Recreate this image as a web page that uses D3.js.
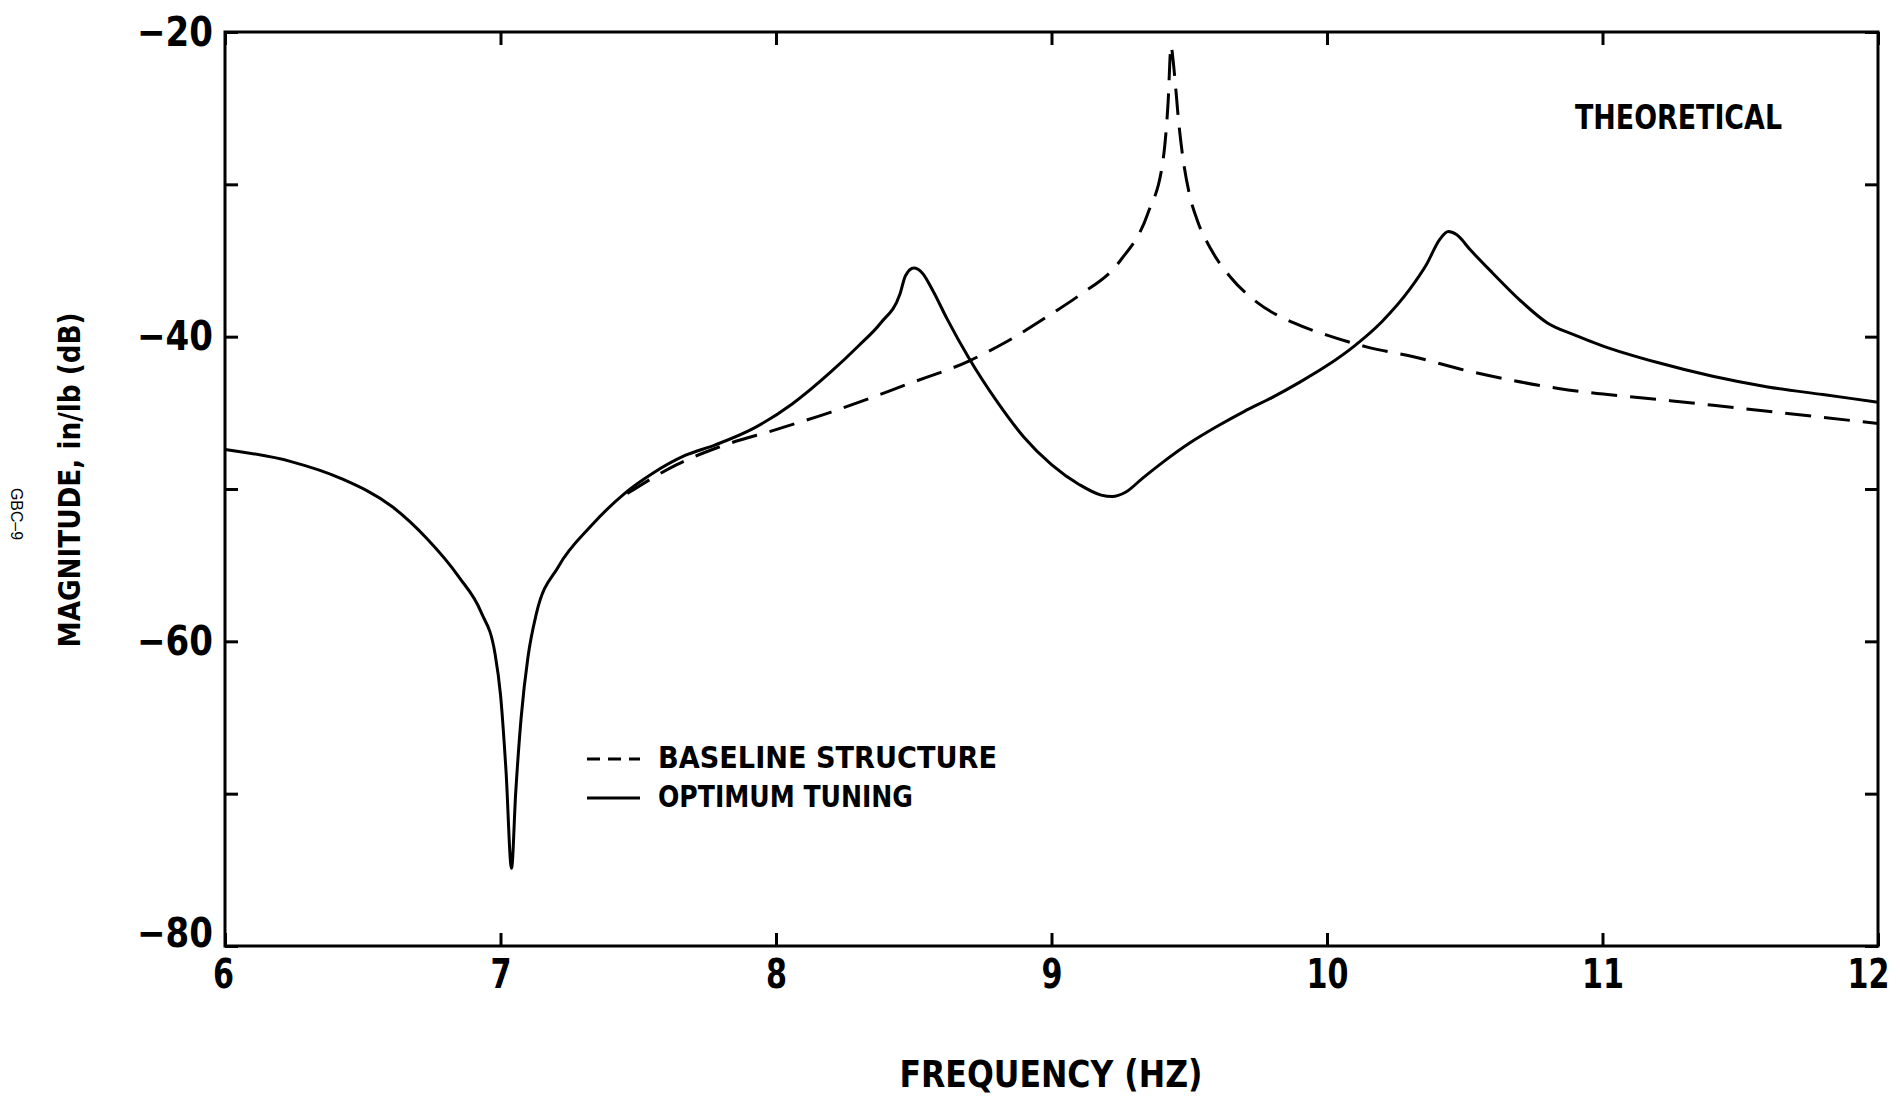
<!DOCTYPE html>
<meta charset="utf-8">
<style>
  body {
    margin: 0;
    background: #fff;
  }

  svg {
    display: block;
    font-family: "Liberation Sans Narrow", "DejaVu Sans Condensed", "Arial Narrow", sans-serif;
    font-weight: bold;
  }

  .axis .domain {
    display: none;
  }

  .axis .tick line {
    stroke: #000;
    stroke-width: 3;
  }

  .axis text {
    font-family: "Liberation Sans Narrow", "DejaVu Sans Condensed", sans-serif;
    font-size: 41px;
    font-weight: bold;
    fill: #000;
  }

  .curve {
    fill: none;
    stroke: #000;
    stroke-width: 3;
    stroke-linejoin: round;
  }

  .dashed {
    stroke-dasharray: 26, 13;
  }
</style>
<svg width="1900" height="1100"></svg>
<script src="https://d3js.org/d3.v7.min.js"></script>
<script>
  // ticks
  var freqTicks = [6, 7, 8, 9, 10, 11, 12];
  var magTicks = [-20, -30, -40, -50, -60, -70, -80];
  var magLabels = [-20, -40, -60, -80];

  // optimum tuning (solid)
  var optFreq = [6.00, 6.24, 6.42, 6.61, 6.73, 6.85, 6.93, 6.98, 7.00, 7.02, 7.04, 7.055, 7.075, 7.10, 7.13,
    7.21, 7.33, 7.45, 7.55, 7.67, 7.78, 7.92, 8.06, 8.20, 8.30, 8.38, 8.45, 8.47, 8.50, 8.53, 8.57,
    8.62, 8.70, 8.80, 8.90, 9.00, 9.10, 9.18, 9.22, 9.27, 9.33, 9.40, 9.50, 9.60, 9.70, 9.80, 9.90,
    10.00, 10.10, 10.20, 10.30, 10.36, 10.41, 10.44, 10.47, 10.52, 10.60, 10.70, 10.80, 10.90, 11.00,
    11.20, 11.40, 11.60, 11.80, 12.00];
  var optMag = [-47.4, -48.2, -49.3, -51.2, -53.2, -55.8, -58.1, -60.8, -63.5, -68.5, -74.9, -70.0, -65.0, -61.0, -58.2,
    -55.1, -52.4, -50.3, -49.0, -47.8, -47.1, -46.0, -44.4, -42.3, -40.6, -39.1, -37.2, -36.0, -35.5, -35.8, -37.0,
    -38.8, -41.4, -44.2, -46.6, -48.4, -49.7, -50.4, -50.5, -50.2, -49.3, -48.3, -47.0, -45.9, -44.9, -44.0, -43.0,
    -41.9, -40.6, -39.0, -36.9, -35.3, -33.6, -33.1, -33.3, -34.3, -35.8, -37.6, -39.1, -39.9, -40.6,
    -41.7, -42.6, -43.3, -43.8, -44.3];

  // baseline structure (dashed)
  var baseFreq = [7.46, 7.64, 7.80, 8.00, 8.20, 8.48, 8.70, 8.83, 9.00, 9.10, 9.25, 9.35, 9.405, 9.423, 9.434,
    9.441, 9.45, 9.46, 9.475, 9.50, 9.53, 9.58, 9.65, 9.75, 9.88, 10.00, 10.15, 10.31, 10.50, 10.84, 11.245, 11.65, 12.00];
  var baseMag = [-50.3, -48.4, -47.2, -46.1, -44.95, -43.1, -41.6, -40.4, -38.5, -37.3, -35.0, -31.9, -28.4, -24.7, -20.9,
    -21.8, -23.5, -25.6, -28.0, -30.6, -32.4, -34.3, -36.1, -37.8, -39.1, -39.9, -40.7, -41.3, -42.2, -43.4, -44.2, -45.0, -45.7];

  var svg = d3.select("svg");
  var margin = {top: 32, right: 22, bottom: 154, left: 225};
  var width = svg.attr("width") - margin.left - margin.right;
  var height = svg.attr("height") - margin.top - margin.bottom;
  var g = svg.append("g").attr("transform", "translate(" + margin.left + "," + margin.top + ")");

  var x = d3.scaleLinear().domain([6, 12]).range([0, width]);
  var y = d3.scaleLinear().domain([-20, -80]).range([0, height]);

  function pairs(fs, ms) {
    return fs.map(function(f, i) { return [f, ms[i]]; });
  }

  var line = d3.line()
    .curve(d3.curveMonotoneX)
    .x(function(d) { return x(d[0]); })
    .y(function(d) { return y(d[1]); });

  // inward ticks on all four sides
  var yAxis = g.append("g")
    .attr("class", "axis axis--y")
    .call(d3.axisLeft(y)
      .tickValues(magTicks)
      .tickSize(-13)
      .tickPadding(12)
      .tickFormat(function(d) { return magLabels.indexOf(d) >= 0 ? "\u2212" + Math.abs(d) : ""; }));

  yAxis.selectAll(".tick text")
    .filter(function(d) { return magLabels.indexOf(d) >= 0; })
    .attr("textLength", 76)
    .attr("lengthAdjust", "spacingAndGlyphs");

  yAxis.selectAll(".tick text")
    .filter(function(d) { return d === -80; })
    .attr("dy", "0em");

  g.append("g")
    .attr("class", "axis")
    .attr("transform", "translate(" + width + ",0)")
    .call(d3.axisRight(y).tickValues(magTicks).tickSize(-13).tickFormat(""));

  var xAxis = g.append("g")
    .attr("class", "axis axis--x")
    .attr("transform", "translate(0," + height + ")")
    .call(d3.axisBottom(x).tickValues(freqTicks).tickSize(-13).tickPadding(13).tickFormat(d3.format("d")));

  xAxis.selectAll(".tick text")
    .attr("textLength", function(d) { return String(d).length * 21; })
    .attr("lengthAdjust", "spacingAndGlyphs")
    .attr("dx", function(d) { return d === 12 ? -10 : (d === 6 ? -2 : 0); });

  g.append("g")
    .attr("class", "axis")
    .call(d3.axisTop(x).tickValues(freqTicks).tickSize(-13).tickFormat(""));

  g.append("rect")
    .attr("width", width)
    .attr("height", height)
    .attr("fill", "none")
    .attr("stroke", "#000")
    .attr("stroke-width", 3);

  g.append("path")
    .datum(pairs(baseFreq, baseMag))
    .attr("class", "curve dashed")
    .attr("d", line);

  g.append("path")
    .datum(pairs(optFreq, optMag))
    .attr("class", "curve")
    .attr("d", line);

  // legend
  var legend = svg.append("g").attr("transform", "translate(587,759)");
  legend.append("line").attr("x2", 53).attr("stroke", "#000").attr("stroke-width", 3).attr("stroke-dasharray", "13,8");
  legend.append("line").attr("y1", 39).attr("y2", 39).attr("x2", 53).attr("stroke", "#000").attr("stroke-width", 3);
  legend.append("text").attr("x", 71).attr("y", 9).attr("font-size", 31)
    .attr("textLength", 339).attr("lengthAdjust", "spacingAndGlyphs").text("BASELINE STRUCTURE");
  legend.append("text").attr("x", 71).attr("y", 48).attr("font-size", 31)
    .attr("textLength", 255).attr("lengthAdjust", "spacingAndGlyphs").text("OPTIMUM TUNING");

  svg.append("text")
    .attr("x", 1575).attr("y", 129).attr("font-size", 33)
    .attr("textLength", 207).attr("lengthAdjust", "spacingAndGlyphs")
    .text("THEORETICAL");

  svg.append("text")
    .attr("x", 1051).attr("y", 1087).attr("font-size", 37)
    .attr("text-anchor", "middle")
    .attr("textLength", 303).attr("lengthAdjust", "spacingAndGlyphs")
    .text("FREQUENCY (HZ)");

  svg.append("text")
    .attr("transform", "translate(80,480) rotate(-90)")
    .attr("font-size", 31)
    .attr("text-anchor", "middle")
    .attr("textLength", 335).attr("lengthAdjust", "spacingAndGlyphs")
    .text("MAGNITUDE, in/lb (dB)");

  svg.append("text")
    .attr("transform", "translate(11,514) rotate(90)")
    .attr("font-family", "'Liberation Sans', Arial, sans-serif")
    .attr("font-weight", "normal")
    .attr("font-size", 17)
    .attr("text-anchor", "middle")
    .attr("textLength", 52).attr("lengthAdjust", "spacingAndGlyphs")
    .text("GBC\u20139");
</script>
